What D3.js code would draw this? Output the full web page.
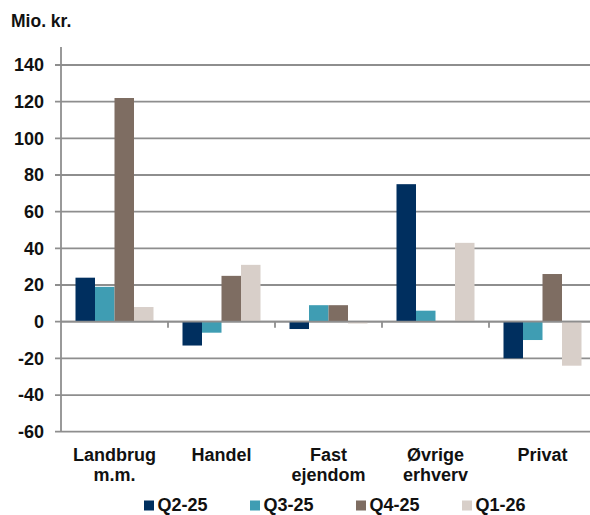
<!DOCTYPE html>
<html>
<head>
<meta charset="utf-8">
<script src="https://cdn.jsdelivr.net/npm/d3@7"></script>
<style>
  body { margin: 0; background: #fff; }
  svg { display: block; font-family: "Liberation Sans", Arial, sans-serif; font-weight: bold; }
</style>
</head>
<body>
<svg id="chart"></svg>
<script>
// chart data
const categories = ["Landbrug m.m.", "Handel", "Fast ejendom", "Øvrige erhverv", "Privat"];
const categoryLines = [["Landbrug", "m.m."], ["Handel"], ["Fast", "ejendom"], ["Øvrige", "erhverv"], ["Privat"]];
const series = ["Q2-25", "Q3-25", "Q4-25", "Q1-26"];
const q2_25 = [24, -13, -4, 75, -20];
const q3_25 = [19, -6, 9, 6, -10];
const q4_25 = [122, 25, 9, 0, 26];
const q1_26 = [8, 31, -1, 43, -24];
const yTicks = [-60, -40, -20, 0, 20, 40, 60, 80, 100, 120, 140];
const colors = ["#002f5f", "#3f9db3", "#7e6d62", "#d8cfc9"];

const values = [q2_25, q3_25, q4_25, q1_26];

const W = 590, H = 515;
const svg = d3.select("#chart").attr("width", W).attr("height", H);

// scales
const x0 = d3.scaleBand()
    .domain(categories)
    .range([61, 596])
    .paddingInner(0.271)
    .paddingOuter(0.1355);

const x1 = d3.scaleBand()
    .domain(series)
    .range([0, x0.bandwidth()]);

const y = d3.scaleLinear()
    .domain([-60, 140])
    .range([431.7, 65]);

const color = d3.scaleOrdinal().domain(series).range(colors);

const grey = "#8e8e8e";

// gridlines
svg.append("g")
    .selectAll("line")
    .data(yTicks)
    .join("line")
    .attr("x1", 55)
    .attr("x2", W)
    .attr("y1", d => y(d))
    .attr("y2", d => y(d))
    .attr("stroke", grey)
    .attr("stroke-width", 1.8);

// y axis labels (plain hyphen for negatives, like the original)
const yAxis = svg.append("g")
    .attr("transform", "translate(61,0)")
    .call(d3.axisLeft(y).tickValues(yTicks).tickSize(0).tickPadding(17).tickFormat(d => String(d)));
yAxis.select(".domain").remove();
yAxis.selectAll("text")
    .attr("font-size", 18)
    .attr("font-family", "Liberation Sans, Arial, sans-serif")
    .attr("font-weight", "bold")
    .attr("fill", "#111");

// bars
const rows = series.map((s, i) => categories.map((c, j) => ({ s, c, v: values[i][j] })));
svg.append("g")
    .selectAll("g")
    .data(rows)
    .join("g")
    .attr("fill", (d, i) => colors[i])
    .selectAll("rect")
    .data(d => d)
    .join("rect")
    .attr("x", d => x0(d.c) + x1(d.s))
    .attr("width", x1.bandwidth())
    .attr("y", d => y(Math.max(0, d.v)))
    .attr("height", d => Math.abs(y(d.v) - y(0)));

// zero line on top
svg.append("line")
    .attr("x1", 61).attr("x2", W)
    .attr("y1", y(0)).attr("y2", y(0))
    .attr("stroke", grey)
    .attr("stroke-width", 1.8);

// category tick marks
const step = x0.step();
svg.append("g")
    .selectAll("line")
    .data(categories.slice(0, -1))
    .join("line")
    .attr("x1", d => x0(d) + x0.bandwidth() + (step - x0.bandwidth()) / 2)
    .attr("x2", d => x0(d) + x0.bandwidth() + (step - x0.bandwidth()) / 2)
    .attr("y1", y(0))
    .attr("y2", y(0) + 6)
    .attr("stroke", grey)
    .attr("stroke-width", 1.8);

// y axis line
svg.append("line")
    .attr("x1", 61).attr("x2", 61)
    .attr("y1", 47).attr("y2", y(-60))
    .attr("stroke", grey)
    .attr("stroke-width", 1.8);

// category labels
svg.append("g")
    .selectAll("text")
    .data(categories)
    .join("text")
    .attr("x", d => x0(d) + x0.bandwidth() / 2)
    .attr("y", 460.7)
    .attr("text-anchor", "middle")
    .attr("font-size", 18)
    .attr("fill", "#111")
    .each(function(d, i) {
        d3.select(this).selectAll("tspan")
            .data(categoryLines[i])
            .join("tspan")
            .attr("x", x0(d) + x0.bandwidth() / 2)
            .attr("dy", (t, k) => k === 0 ? 0 : 20)
            .text(t => t);
    });

// unit label
svg.append("text")
    .attr("x", 11)
    .attr("y", 26.7)
    .attr("font-size", 17.5)
    .attr("fill", "#111")
    .text("Mio. kr.");

// legend
const legend = svg.append("g")
    .selectAll("g")
    .data(series)
    .join("g")
    .attr("transform", (d, i) => `translate(${144 + i * 106},0)`);
legend.append("rect")
    .attr("x", 0)
    .attr("y", 500.5)
    .attr("width", 10)
    .attr("height", 10)
    .attr("fill", d => color(d));
legend.append("text")
    .attr("x", 13.5)
    .attr("y", 510.5)
    .attr("font-size", 18)
    .attr("fill", "#111")
    .text(d => d);
</script>
</body>
</html>
